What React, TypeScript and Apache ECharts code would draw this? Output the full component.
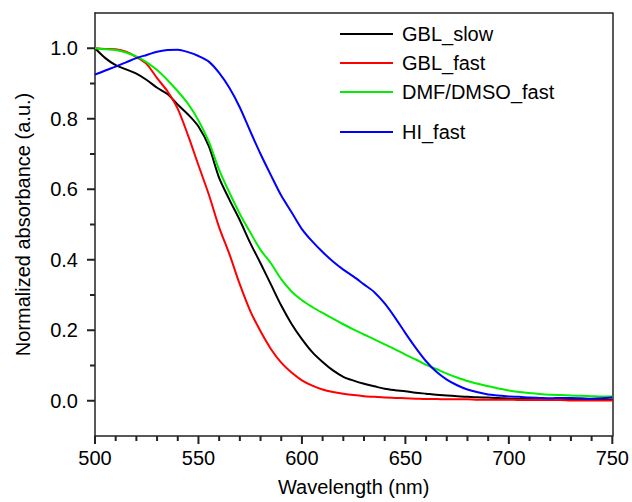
import React, { useEffect, useRef } from "react";
import * as echarts from "echarts";

const wavelengths = [
  500, 505, 510, 515, 520, 525, 530, 535, 540, 545, 550, 555, 560, 565, 570, 575, 580,
  585, 590, 595, 600, 605, 610, 615, 620, 625, 630, 635, 640, 645, 650, 655, 660, 665,
  670, 675, 680, 685, 690, 695, 700, 705, 710, 715, 720, 725, 730, 735, 740, 745, 750,
];

const gblSlow = [
  1.0, 0.972, 0.952, 0.94, 0.928, 0.91, 0.888, 0.87, 0.84, 0.812, 0.778, 0.722, 0.632,
  0.57, 0.512, 0.448, 0.39, 0.33, 0.27, 0.218, 0.175, 0.138, 0.11, 0.086, 0.068, 0.057,
  0.048, 0.041, 0.034, 0.03, 0.027, 0.023, 0.02, 0.017, 0.015, 0.013, 0.011, 0.01, 0.009,
  0.008, 0.006, 0.005, 0.005, 0.004, 0.004, 0.004, 0.003, 0.003, 0.003, 0.003, 0.003,
];

const gblFast = [
  1.0, 0.998, 0.997, 0.99, 0.975, 0.955, 0.915, 0.878, 0.828, 0.752, 0.668, 0.585, 0.492,
  0.415, 0.33, 0.255, 0.197, 0.147, 0.108, 0.08, 0.058, 0.043, 0.032, 0.025, 0.02, 0.016,
  0.013, 0.011, 0.009, 0.008, 0.007, 0.006, 0.005, 0.005, 0.004, 0.004, 0.004, 0.003,
  0.003, 0.003, 0.003, 0.002, 0.002, 0.002, 0.002, 0.002, 0.001, 0.001, 0.001, 0.001, 0.001,
];

const dmfDmsoFast = [
  1.0, 0.997, 0.995, 0.988, 0.977, 0.96, 0.938, 0.91, 0.878, 0.842, 0.795, 0.735, 0.655,
  0.59, 0.53, 0.478, 0.428, 0.39, 0.345, 0.31, 0.285, 0.266, 0.249, 0.233, 0.217, 0.202,
  0.188, 0.174, 0.16, 0.146, 0.131, 0.117, 0.102, 0.09, 0.077, 0.066, 0.056, 0.048, 0.041,
  0.035, 0.029, 0.025, 0.022, 0.019, 0.017, 0.016, 0.015, 0.014, 0.013, 0.012, 0.012,
];

const hiFast = [
  0.925, 0.937, 0.948, 0.96, 0.972, 0.981, 0.99, 0.995, 0.996, 0.989, 0.978, 0.962, 0.93,
  0.887, 0.832, 0.765, 0.7, 0.64, 0.582, 0.535, 0.487, 0.452, 0.422, 0.395, 0.372, 0.352,
  0.33, 0.308, 0.276, 0.236, 0.192, 0.15, 0.112, 0.082, 0.06, 0.044, 0.032, 0.024, 0.018,
  0.015, 0.012, 0.011, 0.009, 0.008, 0.007, 0.008, 0.008, 0.007, 0.006, 0.007, 0.009,
];

const seriesNames = ["GBL_slow", "GBL_fast", "DMF/DMSO_fast", "HI_fast"];
const seriesColors = ["#000000", "#ff0000", "#00ee00", "#0000ff"];
const xMajorTicks = [500, 550, 600, 650, 700, 750];
const xMinorTicks = [
  510, 520, 530, 540, 560, 570, 580, 590, 610, 620, 630, 640, 660, 670, 680, 690, 710, 720,
  730, 740,
];
const yMajorTicks = [0, 0.2, 0.4, 0.6, 0.8, 1.0];
const yMinorTicks = [0.1, 0.3, 0.5, 0.7, 0.9];

const FONT = "Liberation Sans, Arial, sans-serif";
const AXIS_COLOR = "#222";
const X_MIN = 500;
const Y_MIN = -0.1;

export default function App() {
  const ref = useRef<HTMLDivElement>(null);
  useEffect(() => {
    document.body.style.margin = "0";
    if (!ref.current) return;
    const chart = echarts.init(ref.current, undefined, { renderer: "svg" });
    const allValues = [gblSlow, gblFast, dmfDmsoFast, hiFast];
    const series = seriesNames.map((name, k) => ({
      name,
      type: "line",
      data: wavelengths.map((w, i) => [w, allValues[k][i]]),
      showSymbol: false,
      smooth: 0.3,
      lineStyle: { color: seriesColors[k], width: 2 },
      itemStyle: { color: seriesColors[k] },
      xAxisIndex: 0,
      yAxisIndex: 0,
    }));
    const legendCommon = {
      orient: "vertical",
      left: 340,
      padding: 0,
      itemWidth: 53,
      itemHeight: 2,
      itemGap: 9,
      icon: "rect",
      textStyle: { fontFamily: FONT, fontSize: 20, color: "#000", padding: [0, 0, 0, 4] },
    };
    chart.setOption({
      animation: false,
      backgroundColor: "#fff",
      grid: { left: 95, right: 18, top: 13, bottom: 65 },
      legend: [
        { ...legendCommon, top: 24, data: seriesNames.slice(0, 3) },
        { ...legendCommon, top: 122, data: seriesNames.slice(3) },
      ],
      xAxis: [
        {
          type: "value",
          position: "bottom",
          min: 500,
          max: 750,
          interval: 50,
          name: "Wavelength (nm)",
          nameLocation: "middle",
          nameGap: 41,
          nameTextStyle: { fontFamily: FONT, fontSize: 20, color: "#000" },
          axisLine: { show: true, onZero: false, lineStyle: { color: AXIS_COLOR, width: 1.5 } },
          axisTick: { show: false },
          axisLabel: { show: true, fontFamily: FONT, fontSize: 20, color: "#000", margin: 12 },
          splitLine: { show: false },
        },
        {
          type: "value",
          position: "top",
          min: 500,
          max: 750,
          interval: 50,
          axisLine: { show: true, onZero: false, lineStyle: { color: AXIS_COLOR, width: 1.5 } },
          axisTick: { show: false },
          axisLabel: { show: false },
          splitLine: { show: false },
        },
      ],
      yAxis: [
        {
          type: "value",
          position: "left",
          min: -0.1,
          max: 1.1,
          name: "Normalized absorbance (a.u.)",
          nameLocation: "middle",
          nameGap: 62,
          nameTextStyle: { fontFamily: FONT, fontSize: 20, color: "#000" },
          axisLine: { show: true, onZero: false, lineStyle: { color: AXIS_COLOR, width: 1.5 } },
          axisTick: { show: false },
          axisLabel: {
            show: true,
            fontFamily: FONT,
            fontSize: 20,
            color: "#000",
            margin: 17,
            customValues: yMajorTicks,
            formatter: (v: number) => v.toFixed(1),
          },
          splitLine: { show: false },
        },
        {
          type: "value",
          position: "right",
          min: -0.1,
          max: 1.1,
          axisLine: { show: true, onZero: false, lineStyle: { color: AXIS_COLOR, width: 1.5 } },
          axisTick: { show: false },
          axisLabel: { show: false },
          splitLine: { show: false },
        },
      ],
      series,
    });

    // outward tick marks, positioned through the chart's own scales
    const axisY = chart.convertToPixel({ yAxisIndex: 0 }, Y_MIN) as number;
    const axisX = chart.convertToPixel({ xAxisIndex: 0 }, X_MIN) as number;
    const tick = (x1: number, y1: number, x2: number, y2: number) => ({
      type: "line",
      silent: true,
      z: 10,
      shape: { x1, y1, x2, y2 },
      style: { stroke: AXIS_COLOR, lineWidth: 2 },
    });
    const graphics: any[] = [];
    xMajorTicks.forEach((v) => {
      const px = chart.convertToPixel({ xAxisIndex: 0 }, v) as number;
      graphics.push(tick(px, axisY, px, axisY + 8));
    });
    xMinorTicks.forEach((v) => {
      const px = chart.convertToPixel({ xAxisIndex: 0 }, v) as number;
      graphics.push(tick(px, axisY, px, axisY + 5));
    });
    yMajorTicks.forEach((v) => {
      const py = chart.convertToPixel({ yAxisIndex: 0 }, v) as number;
      graphics.push(tick(axisX, py, axisX - 8, py));
    });
    yMinorTicks.forEach((v) => {
      const py = chart.convertToPixel({ yAxisIndex: 0 }, v) as number;
      graphics.push(tick(axisX, py, axisX - 5, py));
    });
    chart.setOption({ graphic: graphics });

    return () => chart.dispose();
  }, []);
  return <div ref={ref} style={{ width: 632, height: 502 }} />;
}
